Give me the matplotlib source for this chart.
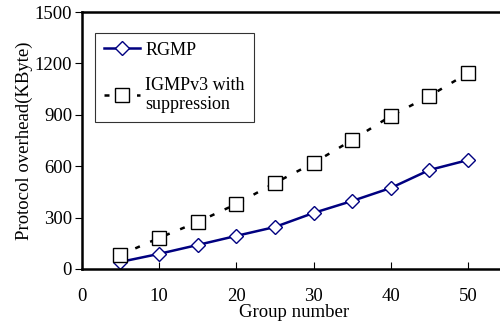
import numpy as np
import matplotlib as mpl
mpl.use('Agg')
import matplotlib.pyplot as plt

plt.rc('font', family='Liberation Serif', size=13.5)

groups = [5, 10, 15, 20, 25, 30, 35, 40, 45, 50]
rgmp = [41, 88, 140, 193, 245, 327, 397, 473, 578, 636]
igmp = [82, 181, 274, 379, 502, 619, 753, 893, 1010, 1144]

fig = plt.figure(figsize=(5, 3.26), dpi=100)
ax = fig.add_axes([0.1635, 0.175, 0.85, 0.788])

ax.plot(groups, rgmp, color='#000080', lw=1.8, marker='D', markersize=7,
        markerfacecolor='white', markeredgecolor='#000080', markeredgewidth=1,
        label='RGMP')
ax.plot(groups, igmp, color='black', lw=1.8, ls=(0, (2, 4.5)), marker='s',
        markersize=10, markerfacecolor='white', markeredgecolor='black',
        markeredgewidth=1, label='IGMPv3 with\nsuppression')

ax.set_xlim(0, 55)
ax.set_ylim(0, 1500)
ax.set_xticks([0, 10, 20, 30, 40, 50])
ax.set_yticks([0, 300, 600, 900, 1200, 1500])
ax.tick_params(axis='x', direction='in', length=5, pad=14)
ax.tick_params(axis='y', direction='out', length=5, pad=2)
ax.spines['right'].set_visible(False)
for s in ['left', 'bottom', 'top']:
    ax.spines[s].set_linewidth(1.8)

ax.set_xlabel('Group number', labelpad=-1)
ax.set_ylabel('Protocol overhead(KByte)', labelpad=1)

leg = ax.legend(loc='upper left', bbox_to_anchor=(0.03, 0.92), frameon=True,
                fancybox=False, edgecolor='black', labelspacing=1.0,
                handlelength=2.0, handletextpad=0.3, borderpad=0.5,
                borderaxespad=0.0, fontsize=13)
leg.get_frame().set_linewidth(0.8)

fig.savefig('out.png', dpi=100)
